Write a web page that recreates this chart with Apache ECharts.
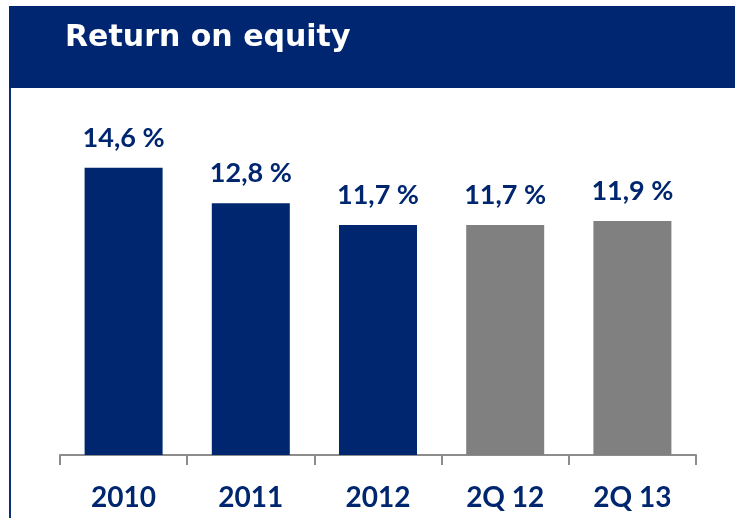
<!DOCTYPE html>
<html>
<head>
<meta charset="utf-8">
<script src="https://cdn.jsdelivr.net/npm/echarts@6/dist/echarts.min.js"></script>
<style>
  html, body { margin: 0; padding: 0; background: #fff; }
  #main { width: 735px; height: 518px; }
</style>
</head>
<body>
<div id="main"></div>
<script>
// 数据
var categories = ['2010', '2011', '2012', '2Q 12', '2Q 13'];
var roeValues = [14.6, 12.8, 11.7, 11.7, 11.9];
var barColors = ['#00266f', '#00266f', '#00266f', '#808080', '#808080'];

var navy = '#00266f';

var myChart = echarts.init(document.getElementById('main'));

var option = {
  animation: false,
  graphic: [
    {
      // 标题背景
      type: 'rect',
      shape: { x: 9, y: 6, width: 726, height: 82 },
      style: { fill: '#002672' },
      z: 0
    },
    {
      // 左边框
      type: 'rect',
      shape: { x: 9, y: 88, width: 2, height: 430 },
      style: { fill: '#0b2e78' },
      z: 0
    },
    {
      type: 'text',
      left: 65,
      top: 23,
      style: {
        text: 'Return on equity',
        fill: '#fff',
        font: 'bold 30px "DejaVu Sans", sans-serif'
      },
      z: 1
    }
  ],
  grid: {
    left: 60,
    right: 39,
    top: 101,
    bottom: 63
  },
  xAxis: {
    type: 'category',
    data: categories,
    axisLine: {
      lineStyle: { color: '#8c8c8c', width: 2 }
    },
    axisTick: {
      show: true,
      length: 10,
      lineStyle: { color: '#8c8c8c', width: 2 }
    },
    axisLabel: {
      color: navy,
      fontFamily: 'Lato',
      fontWeight: 'bold',
      fontSize: 28,
      margin: 29
    }
  },
  yAxis: {
    type: 'value',
    min: 0,
    max: 18,
    show: false,
    splitLine: { show: false }
  },
  series: [{
    type: 'bar',
    barWidth: 78,
    data: roeValues.map(function (v, i) {
      return { value: v, itemStyle: { color: barColors[i] } };
    }),
    label: {
      show: true,
      position: 'top',
      distance: 16,
      color: navy,
      fontFamily: 'Lato',
      fontWeight: 'bold',
      fontSize: 27,
      formatter: function (p) {
        return p.value.toFixed(1).replace('.', ',') + ' %';
      }
    }
  }]
};

myChart.setOption(option);
</script>
</body>
</html>
